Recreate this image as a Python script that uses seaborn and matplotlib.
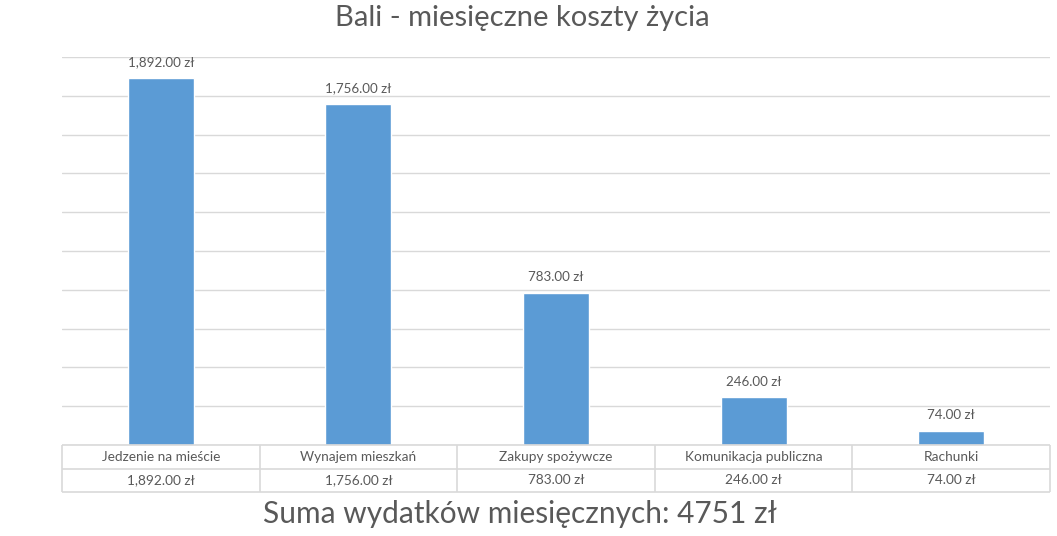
"""
Bali - miesięczne koszty życia: wykres słupkowy z tabelą danych pod spodem.
"""
import matplotlib
matplotlib.use('Agg')
import matplotlib.pyplot as plt
import seaborn as sns
import pandas as pd

categories = ['Jedzenie na mieście', 'Wynajem mieszkań', 'Zakupy spożywcze',
              'Komunikacja publiczna', 'Rachunki']
costs = [1892.00, 1756.00, 783.00, 246.00, 74.00]
y_ticks = [0, 200, 400, 600, 800, 1000, 1200, 1400, 1600, 1800, 2000]

BAR = '#5B9BD5'
GRID = '#D9D9D9'
TXT = '#595959'
W, H = 1057, 536


def fmt_zl(v):
    return f'{v:,.2f} zł'


sns.set_theme(style='white')
plt.rcParams['font.family'] = ['Lato', 'DejaVu Sans']

df = pd.DataFrame({'kategoria': categories, 'koszt': costs})

fig = plt.figure(figsize=(W / 100, H / 100), dpi=100)
left, right = 62 / W, 1050 / W
ax = fig.add_axes([left, (H - 445) / H, right - left, (445 - 57) / H])

sns.barplot(data=df, x='kategoria', y='koszt', color=BAR, width=0.335,
            saturation=1, ax=ax)
ax.set_ylim(0, 2000)
ax.set_xlim(-0.5, len(categories) - 0.5)
ax.set_yticks(y_ticks)
ax.yaxis.grid(True, color=GRID, linewidth=1)
ax.set_axisbelow(True)
ax.set_xlabel('')
ax.set_ylabel('')
ax.set_xticks([])
ax.tick_params(left=False, labelleft=False)
for s in ax.spines.values():
    s.set_visible(False)

ax.bar_label(ax.containers[0], labels=[fmt_zl(v) for v in costs],
             padding=7, fontsize=9.6, color=TXT)

# data table below the plot area
tab = fig.add_axes([left, (H - 492) / H, right - left, (492 - 445) / H])
tab.set_xlim(-0.5, len(categories) - 0.5)
tab.set_ylim(0, 2)
tab.axis('off')
tab.hlines([0, 1, 2], -0.5, len(categories) - 0.5, color=GRID, linewidth=1.2,
           clip_on=False)
tab.vlines([i - 0.5 for i in range(len(categories) + 1)], 0, 2, color=GRID,
           linewidth=1.2, clip_on=False)
for i, (c, v) in enumerate(zip(categories, costs)):
    tab.text(i, 1.5, c, ha='center', va='center', fontsize=9.8, color=TXT)
    tab.text(i, 0.5, fmt_zl(v), ha='center', va='center', fontsize=9.8, color=TXT)

fig.text(522 / W, 1 - 18 / H, 'Bali - miesięczne koszty życia',
         ha='center', va='center', fontsize=21, color=TXT)
fig.text(520 / W, 1 - 514 / H, f'Suma wydatków miesięcznych: {int(sum(costs))} zł',
         ha='center', va='center', fontsize=21.5, color=TXT)

fig.savefig('out.png', dpi=100)
